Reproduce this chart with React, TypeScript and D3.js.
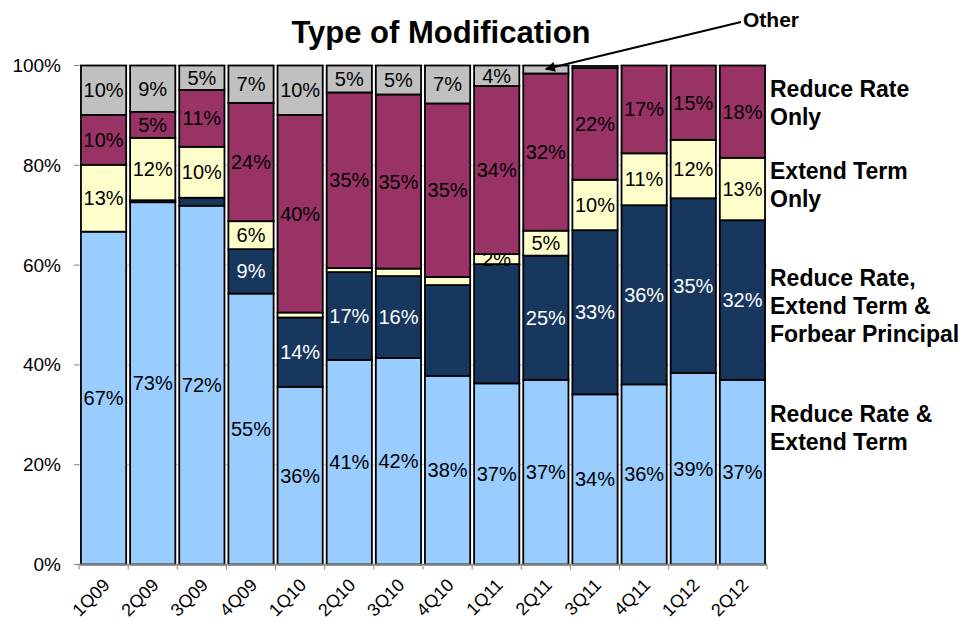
import { useEffect, useRef } from 'react';
import * as d3 from 'd3';

const quarters = ['1Q09', '2Q09', '3Q09', '4Q09', '1Q10', '2Q10', '3Q10', '4Q10', '1Q11', '2Q11', '3Q11', '4Q11', '1Q12', '2Q12'];

// shares in percent, bottom to top
const rateTerm = [66.7, 72.6, 71.9, 54.3, 35.6, 41.0, 41.4, 37.8, 36.3, 37.0, 34.1, 36.1, 38.4, 37.0];
const rateTermForbear = [0, 0.4, 1.6, 8.9, 13.9, 17.6, 16.4, 18.2, 23.9, 24.9, 32.9, 35.9, 35.0, 32.0];
const termOnly = [13.4, 12.5, 10.2, 5.6, 1.0, 0.8, 1.5, 1.6, 2.0, 5.0, 10.1, 10.4, 11.7, 12.5];
const rateOnly = [10.0, 5.2, 11.4, 23.7, 39.6, 35.2, 34.9, 34.8, 33.7, 31.5, 22.4, 17.6, 14.9, 18.5];
const other = [9.9, 9.3, 4.9, 7.5, 9.9, 5.4, 5.8, 7.6, 4.1, 1.6, 0.4, 0, 0, 0];

// data labels as printed on the chart ('' = none)
const rateTermLabels = ['67%', '73%', '72%', '55%', '36%', '41%', '42%', '38%', '37%', '37%', '34%', '36%', '39%', '37%'];
const rateTermForbearLabels = ['', '', '', '9%', '14%', '17%', '16%', '', '', '25%', '33%', '36%', '35%', '32%'];
const termOnlyLabels = ['13%', '12%', '10%', '6%', '', '', '', '', '2%', '5%', '10%', '11%', '12%', '13%'];
const rateOnlyLabels = ['10%', '5%', '11%', '24%', '40%', '35%', '35%', '35%', '34%', '32%', '22%', '17%', '15%', '18%'];
const otherLabels = ['10%', '9%', '5%', '7%', '10%', '5%', '5%', '7%', '4%', '', '', '', '', ''];

const yTicks = [0, 20, 40, 60, 80, 100];

const legendLines = [
  { lines: ['Reduce Rate', 'Only'], y: 97 },
  { lines: ['Extend Term', 'Only'], y: 179 },
  { lines: ['Reduce Rate,', 'Extend Term &', 'Forbear Principal'], y: 286 },
  { lines: ['Reduce Rate &', 'Extend Term'], y: 422 },
];

const W = 966;
const H = 621;
const PLOT = { left: 79, right: 767, top: 65.5, bottom: 564.5 };
const FONT = "'Liberation Sans', Arial, sans-serif";

export default function App() {
  const ref = useRef<SVGSVGElement>(null);

  useEffect(() => {
    document.body.style.margin = '0';
    const svg = d3.select(ref.current);
    svg.selectAll('*').remove();

    const series = [
      { values: rateTerm, labels: rateTermLabels, fill: '#99ccff', text: '#000' },
      { values: rateTermForbear, labels: rateTermForbearLabels, fill: '#17375e', text: '#fff' },
      { values: termOnly, labels: termOnlyLabels, fill: '#ffffcc', text: '#000' },
      { values: rateOnly, labels: rateOnlyLabels, fill: '#993366', text: '#000' },
      { values: other, labels: otherLabels, fill: '#c0c0c0', text: '#000' },
    ];

    const x = d3.scaleBand<string>()
      .domain(quarters)
      .range([PLOT.left, PLOT.right])
      .paddingInner(0.08)
      .paddingOuter(0.04);
    const step = x.step();

    const y = d3.scaleLinear().domain([0, 100]).range([PLOT.bottom, PLOT.top]);

    // gridlines
    svg.append('g')
      .selectAll('line')
      .data(yTicks.filter((t) => t > 0))
      .enter()
      .append('line')
      .attr('x1', PLOT.left).attr('x2', PLOT.right)
      .attr('y1', (d) => y(d)).attr('y2', (d) => y(d))
      .attr('stroke', '#c8c8c8')
      .attr('stroke-width', 1);

    // y tick labels + ticks
    const yAxis = svg.append('g');
    yTicks.forEach((t) => {
      yAxis.append('line')
        .attr('x1', PLOT.left - 5).attr('x2', PLOT.left)
        .attr('y1', y(t)).attr('y2', y(t))
        .attr('stroke', '#808080');
      yAxis.append('text')
        .attr('x', 61).attr('y', y(t))
        .attr('text-anchor', 'end')
        .attr('dominant-baseline', 'central')
        .attr('font-family', FONT)
        .attr('font-size', 19)
        .attr('fill', '#000')
        .text(`${t}%`);
    });

    // stacked bars; each series draws its labels before the next series goes on top
    const base = quarters.map(() => 0);
    const barsG = svg.append('g');
    series.forEach((s) => {
      quarters.forEach((q, i) => {
        const v = s.values[i];
        const y0 = base[i];
        const y1 = y0 + v;
        base[i] = y1;
        if (v <= 0) return;
        barsG.append('rect')
          .attr('x', x(q)!)
          .attr('width', x.bandwidth())
          .attr('y', y(y1))
          .attr('height', y(y0) - y(y1))
          .attr('fill', s.fill)
          .attr('stroke', '#000')
          .attr('stroke-width', 1.8);
      });
      quarters.forEach((q, i) => {
        const lab = s.labels[i];
        if (!lab) return;
        const y1 = base[i];
        const y0 = y1 - s.values[i];
        barsG.append('text')
          .attr('x', x(q)! + x.bandwidth() / 2)
          .attr('y', y((y0 + y1) / 2))
          .attr('text-anchor', 'middle')
          .attr('dominant-baseline', 'central')
          .attr('font-family', FONT)
          .attr('font-size', 20)
          .attr('fill', s.text)
          .text(lab);
      });
    });

    // x axis
    const xAxis = svg.append('g');
    xAxis.append('line')
      .attr('x1', PLOT.left).attr('x2', PLOT.right)
      .attr('y1', PLOT.bottom).attr('y2', PLOT.bottom)
      .attr('stroke', '#808080')
      .attr('stroke-width', 1.5);
    d3.range(quarters.length + 1).forEach((i) => {
      const tx = PLOT.left + i * step;
      xAxis.append('line')
        .attr('x1', tx).attr('x2', tx)
        .attr('y1', PLOT.bottom).attr('y2', PLOT.bottom + 5)
        .attr('stroke', '#808080');
    });
    quarters.forEach((q) => {
      const cx = x(q)! + x.bandwidth() / 2;
      xAxis.append('text')
        .attr('transform', `translate(${cx + 3},582) rotate(-45)`)
        .attr('text-anchor', 'end')
        .attr('dominant-baseline', 'central')
        .attr('font-family', FONT)
        .attr('font-size', 18)
        .attr('fill', '#000')
        .text(q);
    });

    // title
    svg.append('text')
      .attr('x', 441).attr('y', 43)
      .attr('text-anchor', 'middle')
      .attr('font-family', FONT)
      .attr('font-weight', 'bold')
      .attr('font-size', 31)
      .attr('fill', '#000')
      .text('Type of Modification');

    // right-hand series names
    legendLines.forEach((l) => {
      l.lines.forEach((line, j) => {
        svg.append('text')
          .attr('x', 770).attr('y', l.y + j * 28)
          .attr('font-family', FONT)
          .attr('font-weight', 'bold')
          .attr('font-size', 23)
          .attr('fill', '#000')
          .text(line);
      });
    });

    // "Other" callout with arrow to the thin 2Q11 segment
    svg.append('defs').append('marker')
      .attr('id', 'arrow')
      .attr('viewBox', '0 0 10 10')
      .attr('refX', 9).attr('refY', 5)
      .attr('markerWidth', 6).attr('markerHeight', 5)
      .attr('orient', 'auto')
      .append('path')
      .attr('d', 'M0,0 L10,5 L0,10 z')
      .attr('fill', '#000');

    svg.append('text')
      .attr('x', 743).attr('y', 27)
      .attr('font-family', FONT)
      .attr('font-weight', 'bold')
      .attr('font-size', 21)
      .attr('fill', '#000')
      .text('Other');

    const tip = x('2Q11')! + x.bandwidth() / 2;
    svg.append('line')
      .attr('x1', 741).attr('y1', 22)
      .attr('x2', tip).attr('y2', y(99.3))
      .attr('stroke', '#000')
      .attr('stroke-width', 2)
      .attr('marker-end', 'url(#arrow)');
  }, []);

  return <svg ref={ref} width={W} height={H} style={{ display: 'block', background: '#fff' }} />;
}
